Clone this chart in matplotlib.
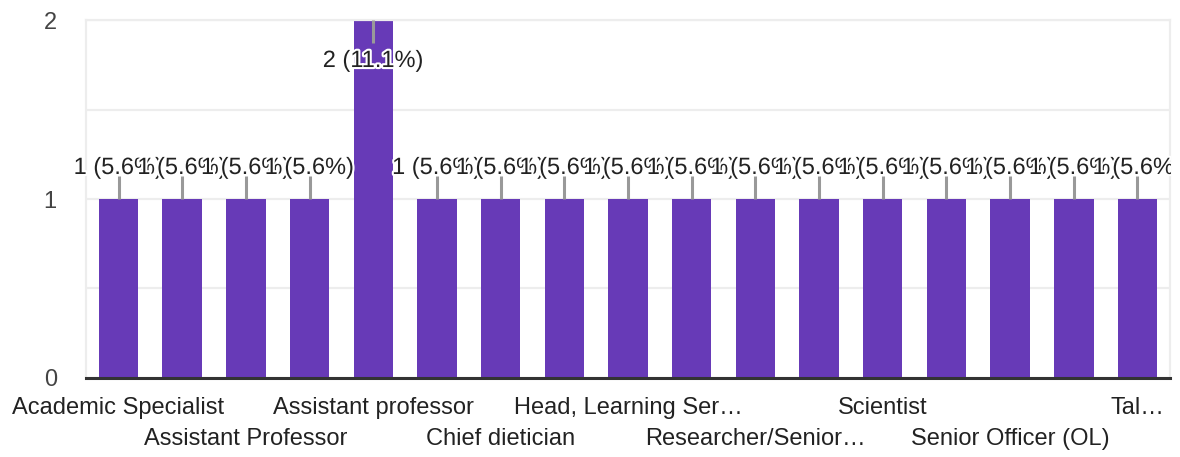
import matplotlib
matplotlib.use("Agg")
import matplotlib.pyplot as plt
import matplotlib.patheffects as pe
from matplotlib.patches import Rectangle
from matplotlib.transforms import offset_copy
import numpy as np

plt.rcParams['font.family'] = ['Liberation Sans', 'DejaVu Sans']

# categories (only every second label is readable in the source chart)
categories = ['Academic Specialist', '', 'Assistant Professor', '',
              'Assistant professor', '', 'Chief dietician', '',
              'Head, Learning Ser\u2026', '', 'Researcher/Senior\u2026', '',
              'Scientist', '', 'Senior Officer (OL)', '', 'Tal\u2026']
counts = [1, 1, 1, 1, 2, 1, 1, 1, 1, 1, 1, 1, 1, 1, 1, 1, 1]
yticks = [0, 1, 2]

BAR = '#673ab7'
GRID = '#ededed'
TXT = '#222222'

total = sum(counts)
x = np.arange(len(counts))

fig = plt.figure(figsize=(11.8, 4.57), dpi=100)
ax = fig.add_axes([0.0729, 0.1729, 0.9186, 0.7833])

ax.bar(x, counts, width=0.62, color=BAR, zorder=2)

ax.set_xlim(-0.51, len(counts) - 0.49)
ax.set_ylim(0, 2)
ax.set_yticks(yticks)
ax.set_yticks([0.5, 1.5], minor=True)
ax.grid(axis='y', which='both', color=GRID, linewidth=1.6, zorder=0)
ax.tick_params(axis='y', which='both', length=0, pad=21, labelsize=17,
               labelcolor='#444444')

# x labels: every other category, alternating on two rows
ticklabels = []
for i, c in enumerate(categories):
    if i % 4 == 0:
        ticklabels.append(c)
    elif i % 4 == 2:
        ticklabels.append('\n' + c)
    else:
        ticklabels.append('')
ax.set_xticks(x)
ax.set_xticklabels(ticklabels, fontsize=17, color=TXT, linespacing=1.5)
ax.tick_params(axis='x', length=0, pad=14)

for s in ['left', 'right', 'top']:
    ax.spines[s].set_color(GRID)
    ax.spines[s].set_linewidth(1.6)
ax.spines['bottom'].set_color('#333333')
ax.spines['bottom'].set_linewidth(2.2)
ax.spines['bottom'].set_zorder(3)

# labels get cut at the right edge of the plot area, as in the source
clip = Rectangle((0, 0), 0.9925, 1, transform=fig.transFigure,
                 fill=False, visible=False)
fig.add_artist(clip)

# value annotations with stems
halo = [pe.withStroke(linewidth=3, foreground='white')]
for xi, v in zip(x, counts):
    label = '%d (%.1f%%)' % (v, 100.0 * v / total)
    if v >= ax.get_ylim()[1]:
        sign, off = -1, 41
    else:
        sign, off = 1, 31
    y0 = ax.transData.transform((xi, v))[1]
    y1 = ax.transData.inverted().transform((0, y0 + sign * 23))[1]
    ax.plot([xi, xi], [v, y1], color='#999999', lw=2.2, zorder=3,
            solid_capstyle='butt')
    txt_tr = offset_copy(ax.transData, fig=fig, x=0, y=sign * off, units='dots')
    t = ax.text(xi, v, label, transform=txt_tr, ha='center', va='center',
                fontsize=17, color=TXT, path_effects=halo, zorder=4,
                clip_on=True)
    t.set_clip_path(clip)

fig.savefig('out.png', dpi=100, facecolor='white')
